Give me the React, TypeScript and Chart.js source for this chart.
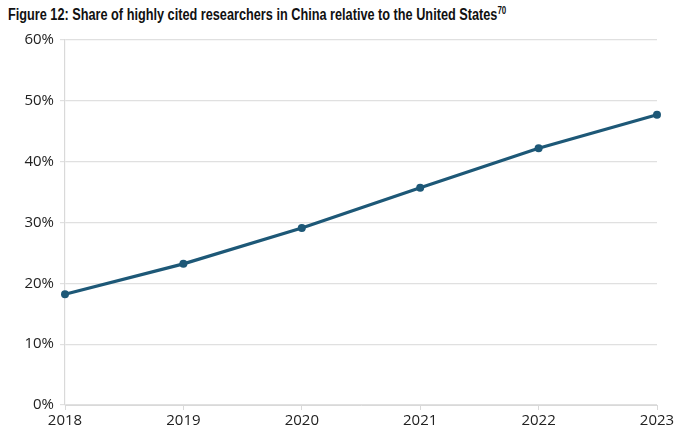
import React, { useEffect, useRef } from "react";
import { Chart, registerables } from "chart.js";

Chart.register(...registerables);

const years = ["2018", "2019", "2020", "2021", "2022", "2023"];
const shareValues = [18.2, 23.2, 29.1, 35.7, 42.2, 47.7];
const yTicks = [0, 10, 20, 30, 40, 50, 60];

const W = 700;
const H = 439;
const LEFT = 65;
const RIGHT = 657;
const TOP = 40;
const BOTTOM = 405;
const TITLE_WIDTH = 498;

export default function App() {
  const ref = useRef<HTMLCanvasElement | null>(null);
  const titleRef = useRef<HTMLDivElement | null>(null);

  useEffect(() => {
    document.body.style.margin = "0";
    const t = titleRef.current;
    if (t) {
      const w = t.scrollWidth;
      if (w > 0) t.style.transform = `scaleX(${TITLE_WIDTH / w})`;
    }
    const ctx = ref.current!;
    const chart = new Chart(ctx, {
      type: "line",
      data: {
        labels: years,
        datasets: [
          {
            data: shareValues,
            borderColor: "#1d5877",
            backgroundColor: "#1d5877",
            borderWidth: 3.2,
            pointRadius: 4,
            pointBackgroundColor: "#1d5877",
            pointBorderWidth: 0,
            tension: 0,
          },
        ],
      },
      options: {
        animation: false,
        responsive: false,
        maintainAspectRatio: false,
        layout: { padding: { top: TOP, right: W - RIGHT, left: 0, bottom: 0 } },
        plugins: { legend: { display: false }, tooltip: { enabled: false } },
        scales: {
          x: {
            type: "category",
            offset: false,
            grid: {
              display: true,
              drawOnChartArea: false,
              drawTicks: true,
              tickLength: 5,
              color: "#d9d9d9",
            },
            border: { display: true, color: "#d9d9d9", width: 1 },
            ticks: {
              color: "#222",
              font: { family: "'Open Sans', sans-serif", size: 15 },
              padding: 2,
              maxRotation: 0,
            },
            afterFit: (s: any) => {
              s.height = H - BOTTOM;
            },
          },
          y: {
            min: 0,
            max: 60,
            afterBuildTicks: (s: any) => {
              s.ticks = yTicks.map((v) => ({ value: v }));
            },
            grid: {
              color: "#e0e0e0",
              lineWidth: 1.2,
              tickLength: 5,
            },
            border: { display: true, color: "#d9d9d9", width: 1.2 },
            ticks: {
              color: "#222",
              font: { family: "'Open Sans', sans-serif", size: 15 },
              padding: 6,
              callback: (v: any) => v + "%",
            },
            afterFit: (s: any) => {
              s.width = LEFT;
            },
          },
        },
      },
    });
    return () => chart.destroy();
  }, []);

  return (
    <div style={{ position: "relative", width: W, height: H, background: "#fff" }}>
      <div
        ref={titleRef}
        style={{
          position: "absolute",
          left: 8,
          top: 5,
          fontFamily: "'Liberation Sans', sans-serif",
          fontWeight: "bold",
          fontSize: 16,
          color: "#111",
          whiteSpace: "nowrap",
          transformOrigin: "left center",
          display: "inline-block",
        }}
      >
        Figure 12: Share of highly cited researchers in China relative to the United States
        <sup style={{ fontSize: 10 }}>70</sup>
      </div>
      <canvas ref={ref} width={W} height={H} style={{ position: "absolute", left: 0, top: 0 }} />
    </div>
  );
}
